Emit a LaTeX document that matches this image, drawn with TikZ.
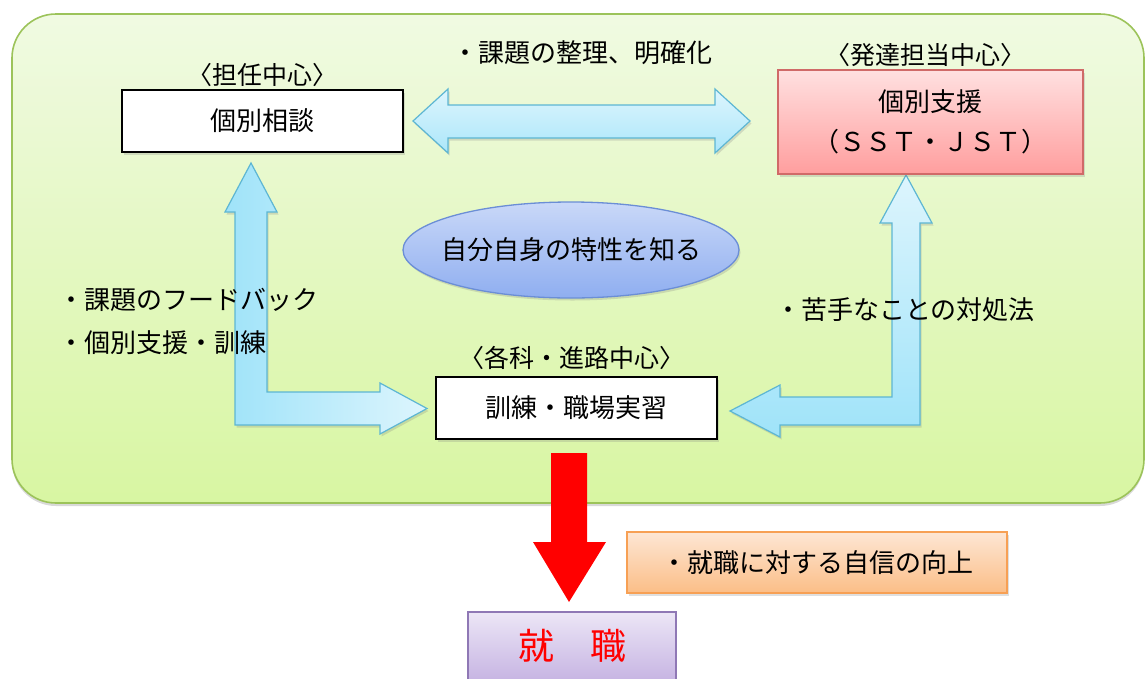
\documentclass[tikz,border=0pt]{standalone}
\usepackage{fontspec}
\newfontfamily\jp{Noto Sans CJK JP}
\usetikzlibrary{shadows,shapes.geometric}
\definecolor{greentop}{HTML}{F0FAE2}
\definecolor{greenbot}{HTML}{D8F6A2}
\definecolor{greenborder}{HTML}{9CC35A}
\definecolor{pinktop}{HTML}{FFE0E0}
\definecolor{pinkbot}{HTML}{FF9E9E}
\definecolor{pinkborder}{HTML}{D06A68}
\definecolor{elltop}{HTML}{C9D8F8}
\definecolor{ellbot}{HTML}{8FAEF0}
\definecolor{ellborder}{HTML}{6B8ED6}
\definecolor{arrlight}{HTML}{DDF5FD}
\definecolor{arrdark}{HTML}{9FE3F9}
\definecolor{arrborder}{HTML}{5DB6D3}
\definecolor{orgtop}{HTML}{FDE6D4}
\definecolor{orgbot}{HTML}{FBBE87}
\definecolor{orgborder}{HTML}{F7A054}
\definecolor{purtop}{HTML}{ECE6F6}
\definecolor{purbot}{HTML}{C7B5E3}
\definecolor{purborder}{HTML}{8F78B5}
\begin{document}
\begin{tikzpicture}[x=1pt,y=-1pt,
  jpt/.style={font=\jp\fontsize{26}{30}\selectfont, text=black, inner sep=0pt},
  lbl/.style={font=\jp\fontsize{25}{28}\selectfont, text=black, inner sep=0pt},
  softshadow/.style={drop shadow={opacity=0.25, shadow xshift=1.5pt, shadow yshift=-2.5pt}},
  whitebox/.style={draw=black, line width=1.6pt, fill=white, minimum width=281pt,
    minimum height=62pt, inner sep=0pt, font=\jp\fontsize{26}{30}\selectfont, softshadow},
  blockarrow/.style={draw=arrborder, line width=1.2pt, line join=miter, softshadow}
]
\useasboundingbox (0,0) rectangle (1145,678);

% background panel
\path[draw=greenborder, line width=1.6pt, rounded corners=44pt,
  top color=greentop, bottom color=greenbot,
  drop shadow={opacity=0.3, shadow xshift=0pt, shadow yshift=-3pt}]
  (12,14) rectangle (1144,503);

% block arrows
\path[blockarrow, top color=arrlight, bottom color=arrdark!80!arrlight]
  (413,121) -- (448,89) -- (448,105) -- (715,105) -- (715,89) -- (750,121)
  -- (715,153) -- (715,138) -- (448,138) -- (448,153) -- cycle;
\path[blockarrow, left color=arrdark, right color=arrlight]
  (251,163) -- (277,212) -- (267,212) -- (267,392) -- (380,392) -- (380,383)
  -- (427,408.5) -- (380,434) -- (380,425) -- (235,425) -- (235,212) -- (225,212) -- cycle;
\path[blockarrow, top color=arrlight, bottom color=arrdark]
  (906,175) -- (932,223) -- (920,223) -- (920,425) -- (780,425) -- (780,437)
  -- (730,411) -- (780,385) -- (780,397) -- (892,397) -- (892,223) -- (880,223) -- cycle;

% nodes
\node[whitebox] (soudan) at (262.5,121) {個別相談};
\node[lbl] (lsoudan) at (262,75) {〈担任中心〉};

\node[draw=pinkborder, line width=1.3pt, top color=pinktop, bottom color=pinkbot,
  minimum width=305pt, minimum height=104pt, inner sep=0pt, align=center,
  font=\jp\fontsize{26}{40}\selectfont, softshadow] (shien) at (930.5,122)
  {個別支援\\（ＳＳＴ・ＪＳＴ）};
\node[lbl] (lshien) at (925,55) {〈発達担当中心〉};

\node[ellipse, draw=ellborder, line width=1.3pt, top color=elltop, bottom color=ellbot,
  minimum width=336pt, minimum height=96pt, inner xsep=-12pt, inner ysep=0pt,
  font=\jp\fontsize{26}{30}\selectfont, softshadow] (self) at (571,250) {自分自身の特性を知る};

\node[whitebox] (kunren) at (576.5,408) {訓練・職場実習};
\node[lbl] (lkunren) at (572,358) {〈各科・進路中心〉};

% texts
\node[jpt] (t1) at (582,53) {・課題の整理、明確化};
\node[jpt, anchor=west] (t2) at (58,300) {・課題のフードバック};
\node[jpt, anchor=west] (t3) at (58,343) {・個別支援・訓練};
\node[jpt, anchor=west] (t4) at (775,310) {・苦手なことの対処法};

% red arrow
\coordinate (rtop) at (569,453);
\fill[red] (551,453) -- (587,453) -- (587,542) -- (606,542) -- (569,602)
  -- (533,542) -- (551,542) -- cycle;

% orange box
\node[draw=orgborder, line width=1.3pt, top color=orgtop, bottom color=orgbot,
  minimum width=380pt, minimum height=61pt, inner sep=0pt,
  font=\jp\fontsize{26}{30}\selectfont, softshadow] (jishin) at (817,562.5) {・就職に対する自信の向上};

% goal box
\node[draw=purborder, line width=1.3pt, top color=purtop, bottom color=purbot,
  minimum width=208pt, minimum height=68pt, inner sep=0pt,
  font=\jp\fontsize{36}{40}\selectfont, text=red] (shushoku) at (572,646) {就　職};
\end{tikzpicture}
\end{document}
